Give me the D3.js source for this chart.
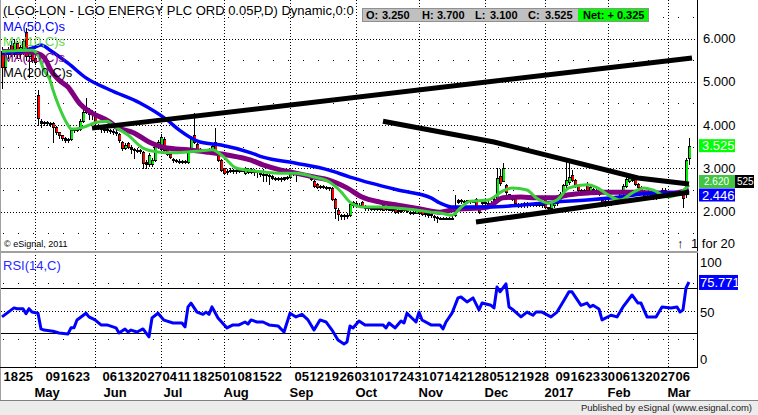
<!DOCTYPE html>
<html><head><meta charset="utf-8">
<script src="https://cdn.jsdelivr.net/npm/d3@7/dist/d3.min.js"></script>
<style>
html,body{margin:0;padding:0;background:#fff;}
svg{display:block;font-family:"Liberation Sans",Arial,sans-serif;}
</style></head><body>
<svg id="chart" width="758" height="415"></svg>
<script>
// ---------- DATA (daily bars, index 0 = 15 Apr 2016 ... 229 = 10 Mar 2017) ----------
const opens = [
5.70,5.35,5.65,5.85,5.65,5.90,5.65,5.70,6.15,5.60,
5.75,5.55,4.70,4.10,4.05,4.07,4.05,4.05,3.95,3.84,
3.76,3.70,3.66,3.68,3.88,3.90,3.90,4.10,4.40,4.30,
4.25,4.28,4.00,3.95,3.90,3.92,3.88,3.86,3.85,3.80,
3.62,3.48,3.58,3.50,3.45,3.43,3.42,3.38,3.15,3.10,
3.10,3.20,3.50,3.45,3.68,3.45,3.33,3.22,3.20,3.18,
3.18,3.17,3.15,3.43,3.77,3.56,3.45,3.43,3.37,3.40,
3.45,3.60,3.35,3.20,3.00,2.92,2.95,2.96,2.93,2.97,
2.95,2.90,2.92,2.98,2.95,2.94,2.90,2.88,2.86,2.84,
2.82,2.78,2.77,2.76,2.76,2.77,2.80,2.90,2.88,2.90,
2.88,2.86,2.87,2.85,2.72,2.65,2.60,2.58,2.58,2.56,
2.55,2.30,2.05,1.93,1.92,1.90,1.93,2.15,2.20,2.16,
2.22,2.10,2.10,2.09,2.08,2.09,2.08,2.15,2.08,2.06,
2.07,2.07,2.02,2.03,2.04,2.10,2.00,1.98,1.98,2.08,
2.05,1.98,1.98,1.95,1.90,1.88,1.86,1.85,1.86,1.85,
1.86,1.92,2.22,2.27,2.25,2.24,2.26,2.24,2.30,2.12,
2.20,2.22,2.20,2.21,2.20,2.30,2.82,2.72,2.62,2.40,
2.35,2.32,2.18,2.16,2.20,2.15,2.18,2.17,2.16,2.17,
2.16,2.30,2.10,2.08,2.15,2.20,2.28,2.42,2.62,2.68,
2.85,2.73,2.60,2.50,2.48,2.65,2.48,2.52,2.50,2.45,
2.27,2.16,2.25,2.18,2.20,2.22,2.27,2.43,2.60,2.70,
2.73,2.78,2.65,2.57,2.48,2.35,2.33,2.35,2.40,2.35,
2.36,2.40,2.45,2.43,2.45,2.43,2.48,2.45,2.40,3.25];
const highs = [
5.80,5.75,5.80,5.95,6.00,5.95,5.85,6.00,6.25,5.80,
5.80,5.60,4.81,4.15,4.10,4.10,4.08,4.08,3.97,3.85,
3.78,3.72,3.70,3.92,3.92,3.93,4.15,4.40,4.62,4.40,
4.35,4.30,4.03,4.00,3.95,3.95,3.92,3.90,3.88,3.82,
3.64,3.58,3.62,3.55,3.48,3.47,3.45,3.40,3.20,3.35,
3.25,3.55,3.65,3.80,3.72,3.47,3.35,3.25,3.22,3.22,
3.20,3.20,3.45,3.75,4.27,3.58,3.47,3.45,3.45,3.48,
3.55,3.93,3.37,3.22,3.02,2.98,3.00,2.98,3.00,3.00,
3.02,3.03,3.00,3.00,2.98,2.95,2.92,2.98,2.88,2.86,
2.84,2.80,2.79,2.80,2.80,2.82,2.93,2.95,2.93,2.92,
2.90,2.90,2.88,2.86,2.74,2.67,2.62,2.62,2.60,2.58,
2.57,2.32,2.08,1.95,1.95,1.96,2.20,2.25,2.22,2.20,
2.25,2.15,2.12,2.12,2.12,2.10,2.12,2.17,2.10,2.10,
2.09,2.10,2.06,2.08,2.15,2.12,2.02,2.02,2.12,2.10,
2.08,2.00,2.00,1.97,1.92,1.90,1.88,1.88,1.88,1.88,
1.90,2.38,2.30,2.30,2.28,2.28,2.28,2.28,2.32,2.14,
2.25,2.25,2.24,2.24,2.35,3.00,2.98,3.12,2.65,2.42,
2.38,2.34,2.20,2.20,2.22,2.22,2.20,2.20,2.20,2.20,
2.20,2.32,2.12,2.25,2.28,2.33,2.45,2.65,3.19,3.12,
2.96,2.75,2.62,2.52,2.52,2.68,2.62,2.55,2.52,2.47,
2.29,2.28,2.27,2.23,2.25,2.27,2.46,2.65,2.85,2.87,
2.82,2.80,2.67,2.60,2.50,2.38,2.38,2.37,2.42,2.40,
2.55,2.55,2.48,2.48,2.48,2.46,2.50,2.48,3.25,3.70];
const lows = [
4.85,5.30,5.55,5.60,5.60,5.55,5.55,5.65,5.50,5.10,
5.45,5.40,4.00,3.95,4.00,4.00,3.98,3.60,3.80,3.70,
3.65,3.60,3.60,3.65,3.85,3.86,3.88,4.08,4.28,4.15,
4.15,4.00,3.92,3.85,3.85,3.85,3.82,3.80,3.78,3.60,
3.42,3.45,3.47,3.35,3.25,3.38,3.35,3.00,3.00,3.05,
3.05,3.18,3.48,3.42,3.40,3.30,3.25,3.15,3.15,3.13,
3.12,3.12,3.12,3.40,3.58,3.42,3.40,3.35,3.35,3.38,
3.42,3.35,3.18,2.95,2.88,2.88,2.92,2.90,2.90,2.92,
2.93,2.88,2.90,2.90,2.85,2.80,2.82,2.72,2.70,2.65,
2.75,2.74,2.73,2.72,2.74,2.75,2.78,2.85,2.70,2.85,
2.83,2.83,2.82,2.74,2.58,2.55,2.55,2.55,2.52,2.50,
2.28,1.85,1.80,1.82,1.84,1.85,1.90,2.12,2.12,2.10,
2.10,2.05,2.05,2.05,2.05,2.04,2.05,2.03,2.03,2.03,
2.02,1.98,1.98,2.00,2.02,2.00,1.95,1.95,1.96,1.95,
1.93,1.90,1.88,1.88,1.80,1.76,1.82,1.82,1.82,1.83,
1.82,1.90,2.20,2.20,2.20,2.20,2.20,2.22,2.08,1.98,
2.18,2.18,2.17,2.18,2.18,2.28,2.62,2.70,2.42,2.32,
2.28,2.18,2.12,2.12,2.12,2.12,2.14,2.13,2.13,2.13,
2.12,2.08,2.00,2.05,2.12,2.15,2.25,2.40,2.55,2.65,
2.70,2.58,2.48,2.45,2.45,2.48,2.45,2.45,2.45,2.38,
2.14,2.13,2.15,2.15,2.17,2.18,2.25,2.40,2.58,2.68,
2.70,2.62,2.55,2.48,2.33,2.30,2.30,2.30,2.30,2.32,
2.34,2.38,2.40,2.40,2.40,2.38,2.38,2.10,2.35,3.10];
const closes = [
5.35,5.65,5.75,5.65,5.90,5.65,5.80,5.95,5.60,5.75,
5.50,5.45,4.16,4.05,4.07,4.05,4.05,3.95,3.85,3.76,
3.70,3.66,3.68,3.88,3.90,3.90,4.10,4.30,4.30,4.25,
4.30,4.05,3.95,3.90,3.92,3.88,3.86,3.85,3.82,3.65,
3.48,3.55,3.50,3.45,3.43,3.42,3.40,3.13,3.10,3.32,
3.20,3.52,3.62,3.72,3.42,3.33,3.27,3.20,3.18,3.18,
3.17,3.16,3.43,3.70,3.61,3.45,3.43,3.37,3.42,3.45,
3.52,3.38,3.20,2.97,2.90,2.95,2.96,2.93,2.97,2.95,
2.98,3.00,2.98,2.92,2.94,2.92,2.88,2.86,2.84,2.82,
2.78,2.77,2.76,2.78,2.79,2.80,2.91,2.88,2.90,2.88,
2.86,2.87,2.85,2.76,2.60,2.58,2.58,2.60,2.56,2.55,
2.30,2.08,1.95,1.92,1.90,1.93,2.18,2.22,2.18,2.13,
2.11,2.12,2.09,2.08,2.09,2.08,2.09,2.05,2.06,2.07,
2.05,2.00,2.03,2.05,2.12,2.02,1.98,1.99,2.10,1.98,
1.95,1.95,1.93,1.92,1.88,1.86,1.85,1.86,1.85,1.86,
1.85,2.10,2.27,2.25,2.24,2.26,2.24,2.25,2.10,2.00,
2.22,2.20,2.21,2.20,2.30,2.77,2.67,3.00,2.45,2.35,
2.30,2.20,2.16,2.17,2.15,2.18,2.17,2.16,2.17,2.16,
2.17,2.10,2.08,2.22,2.25,2.30,2.42,2.62,2.73,2.80,
2.73,2.60,2.50,2.48,2.50,2.50,2.58,2.50,2.48,2.42,
2.16,2.25,2.18,2.20,2.22,2.24,2.43,2.60,2.75,2.78,
2.78,2.65,2.57,2.50,2.35,2.33,2.35,2.33,2.33,2.36,
2.50,2.50,2.43,2.45,2.43,2.42,2.40,2.32,3.20,3.525];

// Moving averages (bar index, value)
const ma50Idx = [0,6,11,13,16,22,28,36,46,55,59,66,73,83,87,98,109,116,123,132,143,146,150,162,173,184,195,206,217,229];
const ma50Val = [5.66,5.70,5.80,5.85,5.73,5.43,5.09,4.81,4.51,4.12,3.89,3.61,3.54,3.36,3.26,3.12,2.96,2.80,2.66,2.50,2.32,2.20,2.11,2.11,2.15,2.22,2.27,2.34,2.43,2.446];
const ma10Idx = [0,5,10,12,14,16,17,19,22,23,26,32,35,38,42,47,52,57,62,66,70,74,78,82,87,93,98,104,109,113,116,120,126,132,138,143,146,150,153,156,162,167,170,175,178,182,185,189,195,198,202,206,210,214,217,222,226,229];
const ma10Val = [5.70,5.72,5.73,5.62,5.27,5.04,4.81,4.43,4.00,3.91,3.93,4.07,4.09,3.95,3.77,3.47,3.38,3.36,3.38,3.40,3.43,3.26,3.01,2.96,2.92,2.89,2.89,2.80,2.69,2.46,2.22,2.11,2.11,2.08,2.04,1.99,1.97,1.92,2.10,2.24,2.27,2.48,2.55,2.50,2.32,2.20,2.27,2.55,2.62,2.57,2.39,2.27,2.43,2.55,2.50,2.34,2.43,2.62];
const ma20Idx = [0,10,13,15,16,19,22,25,26,30,36,38,44,49,55,62,68,75,83,87,93,98,104,109,115,120,126,132,138,146,150,162,167,173,178,184,189,195,200,212,217,223,229];
const ma20Val = [5.70,5.68,5.62,5.45,5.30,5.04,4.88,4.58,4.49,4.28,4.07,3.96,3.82,3.61,3.47,3.43,3.38,3.31,3.19,3.08,2.96,2.89,2.80,2.73,2.55,2.34,2.22,2.15,2.08,1.99,2.04,2.11,2.32,2.34,2.32,2.32,2.39,2.43,2.45,2.45,2.43,2.43,2.50];

// RSI(14)
const rsiIdx = [0,4,5,7,8,9,10,12,13,14,17,19,22,23,24,25,28,29,31,33,35,38,39,41,42,43,45,47,49,50,52,54,57,60,61,62,63,65,67,68,69,70,72,75,77,79,81,82,83,85,87,89,92,94,96,98,100,102,104,106,108,110,112,114,115,116,117,119,121,123,127,128,129,131,133,134,135,138,139,140,143,146,147,148,150,152,153,155,157,159,160,163,164,165,166,168,169,170,173,175,177,178,180,183,185,187,189,190,193,195,196,197,199,200,203,205,207,210,212,213,215,218,220,223,225,226,227,228,229];
const rsiVal = [44.7,52.7,52,52,47.6,52,49,48,34,33,32,30.4,29.6,35,35,42,48,44.7,42,37.6,37.6,35,30.4,34,31.3,33,31.3,34,27,43.8,48,41.8,39.3,39.3,35.8,53.6,57,49,47,49,47,53.6,43.8,34.9,37.6,37.6,40.2,38.4,42,40.2,40.2,37.6,36.7,31.3,48,44.7,47,42,33,42,40.2,33,24.2,20.7,22.4,36.7,34.9,41.1,37.6,37.6,37.6,34.9,39.3,34.9,41.1,39.3,48,40.2,49,42,37.6,37.6,34,40.2,48,61.6,62.4,58,61.6,51,57,55,52.7,71.3,67,74,53.6,51.8,44.7,49,46.2,49,49,44.7,49,58,67,67,55,57,53.6,55,51.8,42,46.2,44.7,53.6,64.2,57,57,44.7,44.7,53.6,52.7,53.6,49,51,70.4,75.771];

// Trend lines drawn on the chart (bar index, price)
const trendUpper = [[30,3.93],[230,5.55]];
const trendDown  = [[127,4.09],[164,3.61],[212,2.78],[229,2.64]];
const trendLow   = [[158,1.76],[229,2.45]];

// Axis ticks
const priceTicks = [2,3,4,5,6];
const priceMinor = [1.5,2.5,3.5,4.5,5.5,6.5];
const rsiTicks = [0,50,100];
const weekIdx = [1,6,15,20,25,34,39,44,49,54,59,64,69,74,79,84,89,98,103,108,113,118,123,128,133,138,143,148,153,158,163,168,173,178,185,190,195,200,205,210,215,220,225];
const weekLbl = ["18","25","09","16","23","06","13","20","27","04","11","18","25","01","08","15","22","05","12","19","26","03","10","17","24","31","07","14","21","28","05","12","19","28","09","16","23","30","06","13","20","27","06"];
const monthGridIdx = [11,31,53,74,96,118,139,161,181,202,222];
const monthLblIdx = [11,34,54,74,96,118,139,161,181,202,222];
const monthLbl = ["May","Jun","Jul","Aug","Sep","Oct","Nov","Dec","2017","Feb","Mar"];

// ---------- CHART ----------
const FONT = '"Liberation Sans", Arial, sans-serif';
const svg = d3.select("#chart");
const PR = 697, PBOT = 251, AXY = 367;
const x = d3.scaleLinear().domain([0, 229]).range([2, 689]);
const y = d3.scaleLinear().domain([2, 6]).range([211.7, 38.5]);
const yR = d3.scaleLinear().domain([0, 100]).range([367.2, 254.7]);
const px = v => Math.round(v) + 0.5;

svg.append("rect").attr("width", 758).attr("height", 415).attr("fill", "#fff");
const defs = svg.append("defs");
defs.append("clipPath").attr("id", "pclip").append("rect").attr("x", 1).attr("y", 0).attr("width", PR - 1).attr("height", PBOT);
defs.append("clipPath").attr("id", "rclip").append("rect").attr("x", 1).attr("y", PBOT + 2).attr("width", PR - 1).attr("height", AXY - PBOT - 2);

// grid
const grid = svg.append("g").attr("shape-rendering", "crispEdges").attr("stroke", "#000").attr("stroke-width", 1);
grid.selectAll(".hmaj").data(priceTicks).join("line")
  .attr("x1", 1).attr("x2", PR).attr("y1", d => px(y(d))).attr("y2", d => px(y(d))).attr("stroke-dasharray", "1,2");
grid.selectAll(".hmin").data(priceMinor.filter(v => y(v) > 2 && y(v) < PBOT)).join("line")
  .attr("x1", 3).attr("x2", PR).attr("y1", d => px(y(d))).attr("y2", d => px(y(d))).attr("stroke-dasharray", "1,14");
grid.selectAll(".vm").data(monthGridIdx).join("line")
  .attr("x1", d => px(x(d))).attr("x2", d => px(x(d))).attr("y1", 0).attr("y2", AXY).attr("stroke-dasharray", "1,2");
grid.append("line").attr("x1", 1).attr("x2", PR).attr("y1", px(yR(50))).attr("y2", px(yR(50))).attr("stroke-dasharray", "1,2");
grid.selectAll(".rmin").data([25, 75]).join("line")
  .attr("x1", 3).attr("x2", PR).attr("y1", d => px(yR(d))).attr("y2", d => px(yR(d))).attr("stroke-dasharray", "1,14");
grid.selectAll(".rsol").data([30, 70]).join("line")
  .attr("x1", 1).attr("x2", PR).attr("y1", d => px(yR(d))).attr("y2", d => px(yR(d)));

// candles
const pg = svg.append("g").attr("clip-path", "url(#pclip)");
const cg = pg.append("g").attr("shape-rendering", "crispEdges");
const idxs = d3.range(closes.length);
cg.selectAll(".wick").data(idxs).join("line")
  .attr("x1", i => Math.round(x(i)) + 0.5).attr("x2", i => Math.round(x(i)) + 0.5)
  .attr("y1", i => Math.round(y(highs[i]))).attr("y2", i => Math.round(y(lows[i])) + 1)
  .attr("stroke", "#000").attr("stroke-width", 1);
idxs.forEach(i => {
  const cx = Math.round(x(i));
  const t = Math.round(y(Math.max(opens[i], closes[i])));
  let b = Math.round(y(Math.min(opens[i], closes[i])));
  if (b - t < 1) b = t + 1;
  cg.append("rect").attr("x", cx - 1).attr("y", t).attr("width", 3).attr("height", b - t + 1).attr("fill", "#000");
  if (b - t > 2 && closes[i] !== opens[i]) {
    cg.append("rect").attr("x", cx).attr("y", t + 1).attr("width", 2).attr("height", b - t - 1)
      .attr("fill", closes[i] > opens[i] ? "#00ee00" : "#ff0000");
  }
});

// moving averages
const maLine = d3.line().x(d => x(d[0])).y(d => y(d[1])).curve(d3.curveMonotoneX);
const ma = (idx, val) => idx.map((d, i) => [d, val[i]]);
pg.append("path").attr("d", maLine(ma(ma20Idx, ma20Val))).attr("fill", "none").attr("stroke", "#800080").attr("stroke-width", 5);
pg.append("path").attr("d", maLine(ma(ma50Idx, ma50Val))).attr("fill", "none").attr("stroke", "#0000ff").attr("stroke-width", 3.5);
pg.append("path").attr("d", maLine(ma(ma10Idx, ma10Val))).attr("fill", "none").attr("stroke", "#3ccf3c").attr("stroke-width", 3);

// trend lines
const tl = d3.line().x(d => x(d[0])).y(d => y(d[1]));
[trendUpper, trendDown, trendLow].forEach(t =>
  pg.append("path").attr("d", tl(t)).attr("fill", "none").attr("stroke", "#000").attr("stroke-width", 5));

// RSI line
svg.append("g").attr("clip-path", "url(#rclip)").append("path")
  .attr("d", d3.line().x(d => x(d[0])).y(d => yR(d[1]))(rsiIdx.map((d, i) => [d, rsiVal[i]])))
  .attr("fill", "none").attr("stroke", "#0000ff").attr("stroke-width", 3).attr("stroke-linejoin", "round");

// frame
const fr = svg.append("g").attr("shape-rendering", "crispEdges");
fr.append("line").attr("x1", 0.5).attr("x2", 0.5).attr("y1", 0).attr("y2", 400).attr("stroke", "#a0a0a0").attr("stroke-width", 1);
fr.append("line").attr("x1", PR + 0.5).attr("x2", PR + 0.5).attr("y1", 0).attr("y2", AXY).attr("stroke", "#000");
fr.append("rect").attr("x", 0).attr("y", PBOT).attr("width", PR + 1).attr("height", 2).attr("fill", "#a0a0a0");
fr.append("line").attr("x1", 0).attr("x2", PR + 1).attr("y1", AXY + 0.5).attr("y2", AXY + 0.5).attr("stroke", "#000");
fr.append("rect").attr("x", 0).attr("y", 400).attr("width", 758).attr("height", 15).attr("fill", "#ececec");
fr.append("line").attr("x1", 0).attr("x2", 758).attr("y1", 400.5).attr("y2", 400.5).attr("stroke", "#808080");

// x axes
const dayAxis = d3.axisBottom(x).tickValues(weekIdx).tickFormat(d => weekLbl[weekIdx.indexOf(d)]).tickSize(0).tickPadding(0);
const gDay = svg.append("g").attr("transform", "translate(0,381)").call(dayAxis);
gDay.select(".domain").remove();
gDay.attr("font-family", FONT).attr("font-size", 13).attr("font-weight", "bold");
gDay.selectAll("text").attr("text-anchor", "start").attr("x", -2).attr("y", 0).attr("dy", null).attr("fill", "#000");

const monAxis = d3.axisBottom(x).tickValues(monthLblIdx).tickFormat(d => monthLbl[monthLblIdx.indexOf(d)]).tickSize(0).tickPadding(0);
const gMon = svg.append("g").attr("transform", "translate(0,397)").call(monAxis);
gMon.select(".domain").remove();
gMon.attr("font-family", FONT).attr("font-size", 13).attr("font-weight", "bold");
gMon.selectAll("text").attr("text-anchor", "start").attr("x", -1).attr("y", 0).attr("dy", null).attr("fill", "#000");

// price axis
const gP = svg.append("g").attr("transform", `translate(${PR},0)`)
  .call(d3.axisRight(y).tickValues(priceTicks).tickFormat(d3.format(".3f")).tickSize(0).tickPadding(6));
gP.select(".domain").remove();
gP.attr("font-family", FONT).attr("font-size", 13);
gP.selectAll("text").attr("fill", "#000");

// rsi axis
const gR = svg.append("g").attr("transform", `translate(${PR},0)`)
  .call(d3.axisRight(yR).tickValues(rsiTicks).tickFormat(d3.format("d")).tickSize(0).tickPadding(3));
gR.select(".domain").remove();
gR.attr("font-family", FONT).attr("font-size", 13);
gR.selectAll("text").attr("fill", "#000").attr("y", d => d === 100 ? 8 : d === 0 ? -8 : 1);

// value labels
function valBox(xx, yc, w, h, fill, txt, tx, fs) {
  svg.append("rect").attr("x", xx).attr("y", yc - h / 2).attr("width", w).attr("height", h).attr("fill", fill);
  svg.append("text").attr("x", tx).attr("y", yc).attr("dy", "0.35em").attr("font-size", fs).attr("fill", "#fff").text(txt);
}
valBox(718, 181.5, 36, 13, "#000", "525", 737, 10);
valBox(699, 181.5, 36, 13, "#44c444", "2.620", 704, 10);
valBox(699, 195, 36, 13, "#0000ff", d3.format(".3f")(ma50Val[ma50Val.length - 1]), 702, 13);
valBox(699, y(closes[closes.length - 1]), 36, 13, "#00ff00", d3.format(".3f")(closes[closes.length - 1]), 702, 13);
svg.append("rect").attr("x", 699).attr("y", yR(75.771) - 7).attr("width", 39).attr("height", 15).attr("fill", "#0000ff");
svg.append("text").attr("x", 700).attr("y", yR(75.771) + 0.5).attr("dy", "0.35em").attr("font-size", 13).attr("fill", "#fff").text(d3.format(".3f")(rsiVal[rsiVal.length - 1]));

// legends
const leg = [["MA(50,C)s", "#0000ff", 31], ["MA(10,C)s", "#66d84a", 46], ["MA(20,C)s", "#800080", 62], ["MA(200,C)s", "#000", 77]];
leg.forEach(l => svg.append("text").attr("x", 3).attr("y", l[2]).attr("font-size", 13).attr("fill", l[1]).text(l[0]));
svg.append("text").attr("x", 3).attr("y", 270).attr("font-size", 13).attr("fill", "#2a2aff").text("RSI(14,C)");
svg.append("text").attr("x", 4).attr("y", 247).attr("font-size", 9).attr("fill", "#000").text("© eSignal, 2011");
svg.append("text").attr("x", 677).attr("y", 248).attr("font-size", 13).attr("fill", "#000").text("↑");
svg.append("text").attr("x", 691).attr("y", 248).attr("font-size", 13).attr("fill", "#000").text("1 for 20");

// header
svg.append("text").attr("x", 3).attr("y", 15).attr("font-size", 13).attr("fill", "#000")
  .text("(LGO-LON - LGO ENERGY PLC ORD 0.05P,D) Dynamic,0:0");
svg.append("rect").attr("x", 362.5).attr("y", 8.5).attr("width", 286).attr("height", 13).attr("fill", "#c0c0c0").attr("stroke", "#909090");
svg.append("rect").attr("x", 578).attr("y", 9).attr("width", 70).attr("height", 12).attr("fill", "#00ff00");
const hdr = [["O:", 366], [d3.format(".3f")(opens[229]), 382], ["H:", 422], [d3.format(".3f")(highs[229]), 437],
  ["L:", 475], [d3.format(".3f")(lows[229]), 490], ["C:", 528], [d3.format(".3f")(closes[229]), 545],
  ["Net: + " + d3.format(".3f")(closes[229] - closes[228]), 583]];
hdr.forEach(h => svg.append("text").attr("x", h[1]).attr("y", 19).attr("font-size", 11).attr("font-weight", "bold").attr("fill", "#000").text(h[0]));

// footer
svg.append("text").attr("x", 752).attr("y", 411).attr("text-anchor", "end").attr("font-size", 9.5).attr("fill", "#222")
  .text("Published by eSignal (www.esignal.com)");
</script></body></html>
